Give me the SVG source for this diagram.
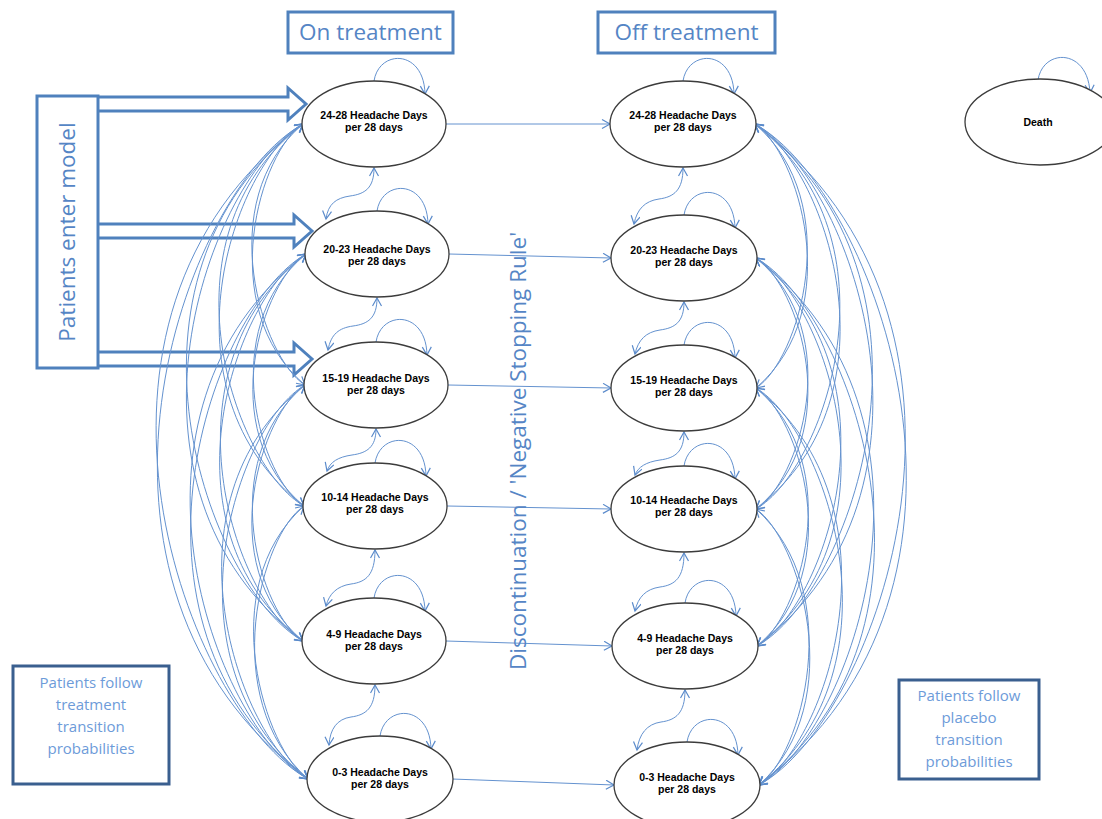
<svg xmlns="http://www.w3.org/2000/svg" width="1102" height="819" viewBox="0 0 1102 819">
<style>
.st{fill:#fff;stroke:#3c3c3c;stroke-width:1.3}
.lbl{font-family:"Liberation Sans",Arial,sans-serif;font-weight:bold;font-size:10.5px;fill:#000;text-anchor:middle}
.c{fill:none;stroke:#6492cf;stroke-width:1}
.hdr{fill:#fff;stroke:#4f81bd;stroke-width:3}
.hdt{font-family:"Open Sans","Liberation Sans",sans-serif;font-size:22.5px;fill:#5585c5;text-anchor:middle}
.nb{fill:#fff;stroke:#3a5f8f;stroke-width:3}
.nbt{font-family:"Open Sans","Liberation Sans",sans-serif;font-size:15px;fill:#6d9bd9;text-anchor:middle}
.blk{fill:#fff;stroke:#4f81bd;stroke-width:3;stroke-linejoin:miter}
</style>
<defs>
<marker id="ah" markerUnits="userSpaceOnUse" markerWidth="12" markerHeight="12" refX="9" refY="5" orient="auto-start-reverse">
<path d="M1,0.5 L9,5 L1,9.5" fill="none" stroke="#5b8bcb" stroke-width="1.2"/>
</marker>
</defs>

<g id="hdr-on"><rect class="hdr" x="288" y="12" width="165" height="41"/><text class="hdt" x="370.5" y="40">On treatment</text></g>
<g id="hdr-off"><rect class="hdr" x="598" y="12" width="177" height="41"/><text class="hdt" x="686.5" y="40">Off treatment</text></g>

<g id="enter">
<path class="blk" d="M98,97 L288,97 L288,88 L306,104 L288,120 L288,111 L98,111"/>
<path class="blk" d="M98,224 L294,224 L294,215 L312,231 L294,247 L294,238 L98,238"/>
<path class="blk" d="M98,352 L294,352 L294,343 L312,359 L294,375 L294,366 L98,366"/>
<rect class="hdr" x="37" y="96" width="61" height="272"/>
<text class="hdt" transform="translate(75,232) rotate(-90)" font-size="23.5">Patients enter model</text>
</g>

<g id="connectors">
<!-- horizontal -->
<path class="c" marker-end="url(#ah)" d="M446,124 L610,124"/>
<path class="c" marker-end="url(#ah)" d="M449,254 L611,258"/>
<path class="c" marker-end="url(#ah)" d="M448,385 L611,388"/>
<path class="c" marker-end="url(#ah)" d="M447,506 L611,509"/>
<path class="c" marker-end="url(#ah)" d="M446,641 L612,646"/>
<path class="c" marker-end="url(#ah)" d="M452,779 L614,785"/>
<!-- self loops left -->
<path class="c" marker-end="url(#ah)" d="M374,81 C379,49 424,49 425,94"/>
<path class="c" marker-end="url(#ah)" d="M377,211 C382,179 427,179 428,224"/>
<path class="c" marker-end="url(#ah)" d="M376,342 C381,310 426,310 427,355"/>
<path class="c" marker-end="url(#ah)" d="M375,463 C380,431 425,431 426,476"/>
<path class="c" marker-end="url(#ah)" d="M374,598 C379,566 424,566 425,611"/>
<path class="c" marker-end="url(#ah)" d="M380,736 C385,704 430,704 431,749"/>
<!-- self loops right -->
<path class="c" marker-end="url(#ah)" d="M683,81 C688,49 733,49 734,94"/>
<path class="c" marker-end="url(#ah)" d="M684,215 C689,183 734,183 735,228"/>
<path class="c" marker-end="url(#ah)" d="M684,345 C689,313 734,313 735,358"/>
<path class="c" marker-end="url(#ah)" d="M684,466 C689,434 734,434 735,479"/>
<path class="c" marker-end="url(#ah)" d="M685,603 C690,571 735,571 736,616"/>
<path class="c" marker-end="url(#ah)" d="M687,742 C692,710 737,710 738,755"/>
<!-- death loop -->
<path class="c" marker-end="url(#ah)" d="M1038,80 C1043,48 1088,48 1090,93"/>
<!-- adjacent S-curves left -->
<path class="c" marker-start="url(#ah)" marker-end="url(#ah)" d="M374,168 C374,188 365,194 350,196 C336,198 328,204 326,219"/>
<path class="c" marker-start="url(#ah)" marker-end="url(#ah)" d="M377,298 C377,318 368,324 353,326 C339,328 331,334 328,350"/>
<path class="c" marker-start="url(#ah)" marker-end="url(#ah)" d="M376,429 C376,447 367,453 352,455 C338,457 330,462 327,471"/>
<path class="c" marker-start="url(#ah)" marker-end="url(#ah)" d="M375,550 C375,575 366,582 351,584 C337,586 329,594 326,606"/>
<path class="c" marker-start="url(#ah)" marker-end="url(#ah)" d="M375,685 C375,708 366,715 351,717 C337,719 330,729 329,745"/>
<!-- adjacent S-curves right -->
<path class="c" marker-start="url(#ah)" marker-end="url(#ah)" d="M683,168 C683,190 674,197 659,199 C645,201 637,209 634,224"/>
<path class="c" marker-start="url(#ah)" marker-end="url(#ah)" d="M684,302 C684,322 675,328 660,330 C646,332 638,340 635,354"/>
<path class="c" marker-start="url(#ah)" marker-end="url(#ah)" d="M684,432 C684,452 675,458 660,460 C646,462 638,467 635,475"/>
<path class="c" marker-start="url(#ah)" marker-end="url(#ah)" d="M684,553 C684,578 675,585 660,587 C646,589 638,597 635,611"/>
<path class="c" marker-start="url(#ah)" marker-end="url(#ah)" d="M685,690 C685,713 676,720 661,722 C647,724 639,734 637,750"/>
<!-- long curves left -->
<g id="left-long">
<path class="c" marker-end="url(#ah)" d="M303,124 C261,150 213,307 305,385"/>
<path class="c" marker-end="url(#ah)" d="M305,385 C263,359 211,202 303,124"/>
<path class="c" marker-end="url(#ah)" d="M303,124 C235,162 154,391 304,506"/>
<path class="c" marker-end="url(#ah)" d="M304,506 C236,468 153,239 303,124"/>
<path class="c" marker-end="url(#ah)" d="M303,124 C209,176 96,486 303,641"/>
<path class="c" marker-end="url(#ah)" d="M303,641 C209,589 96,279 303,124"/>
<path class="c" marker-end="url(#ah)" d="M303,124 C183,190 44,582 308,779"/>
<path class="c" marker-end="url(#ah)" d="M308,779 C188,713 39,321 303,124"/>
<path class="c" marker-end="url(#ah)" d="M306,254 C264,279 212,430 304,506"/>
<path class="c" marker-end="url(#ah)" d="M304,506 C262,481 214,330 306,254"/>
<path class="c" marker-end="url(#ah)" d="M306,254 C238,293 153,525 303,641"/>
<path class="c" marker-end="url(#ah)" d="M303,641 C235,602 156,370 306,254"/>
<path class="c" marker-end="url(#ah)" d="M306,254 C212,307 101,621 308,779"/>
<path class="c" marker-end="url(#ah)" d="M308,779 C214,726 99,412 306,254"/>
<path class="c" marker-end="url(#ah)" d="M305,385 C263,411 211,564 303,641"/>
<path class="c" marker-end="url(#ah)" d="M303,641 C261,615 213,462 305,385"/>
<path class="c" marker-end="url(#ah)" d="M305,385 C237,424 158,661 308,779"/>
<path class="c" marker-end="url(#ah)" d="M308,779 C240,740 155,503 305,385"/>
<path class="c" marker-end="url(#ah)" d="M304,506 C262,533 216,697 308,779"/>
<path class="c" marker-end="url(#ah)" d="M308,779 C266,752 212,588 304,506"/>
</g>
<g id="right-long">
<path class="c" marker-end="url(#ah)" d="M755,124 C797,150 848,309 756,388"/>
<path class="c" marker-end="url(#ah)" d="M756,388 C798,362 847,203 755,124"/>
<path class="c" marker-end="url(#ah)" d="M755,124 C823,163 906,393 756,509"/>
<path class="c" marker-end="url(#ah)" d="M756,509 C824,470 905,240 755,124"/>
<path class="c" marker-end="url(#ah)" d="M755,124 C849,176 964,489 757,646"/>
<path class="c" marker-end="url(#ah)" d="M757,646 C851,594 962,281 755,124"/>
<path class="c" marker-end="url(#ah)" d="M755,124 C875,190 1023,587 759,785"/>
<path class="c" marker-end="url(#ah)" d="M759,785 C879,719 1019,322 755,124"/>
<path class="c" marker-end="url(#ah)" d="M756,258 C798,283 848,434 756,509"/>
<path class="c" marker-end="url(#ah)" d="M756,509 C798,484 848,333 756,258"/>
<path class="c" marker-end="url(#ah)" d="M756,258 C824,297 907,530 757,646"/>
<path class="c" marker-end="url(#ah)" d="M757,646 C825,607 906,374 756,258"/>
<path class="c" marker-end="url(#ah)" d="M756,258 C850,311 966,627 759,785"/>
<path class="c" marker-end="url(#ah)" d="M759,785 C853,732 963,416 756,258"/>
<path class="c" marker-end="url(#ah)" d="M756,388 C798,414 849,569 757,646"/>
<path class="c" marker-end="url(#ah)" d="M757,646 C799,620 848,465 756,388"/>
<path class="c" marker-end="url(#ah)" d="M756,388 C824,428 909,666 759,785"/>
<path class="c" marker-end="url(#ah)" d="M759,785 C827,745 906,507 756,388"/>
<path class="c" marker-end="url(#ah)" d="M756,509 C798,537 851,702 759,785"/>
<path class="c" marker-end="url(#ah)" d="M759,785 C801,757 848,592 756,509"/>
</g>
</g>

<text class="hdt" transform="translate(526,451) rotate(-90)" font-size="22.5">Discontinuation / 'Negative Stopping Rule'</text>

<g id="on-24-28"><ellipse class="st" cx="374" cy="124" rx="72" ry="43"/><text class="lbl" x="374" y="119">24-28 Headache Days</text><text class="lbl" x="374" y="131">per 28 days</text></g>
<g id="on-20-23"><ellipse class="st" cx="377" cy="254" rx="72" ry="43"/><text class="lbl" x="377" y="253">20-23 Headache Days</text><text class="lbl" x="377" y="265">per 28 days</text></g>
<g id="on-15-19"><ellipse class="st" cx="376" cy="385" rx="72" ry="43"/><text class="lbl" x="376" y="382">15-19 Headache Days</text><text class="lbl" x="376" y="394">per 28 days</text></g>
<g id="on-10-14"><ellipse class="st" cx="375" cy="506" rx="72" ry="43"/><text class="lbl" x="375" y="501">10-14 Headache Days</text><text class="lbl" x="375" y="513">per 28 days</text></g>
<g id="on-4-9"><ellipse class="st" cx="374" cy="641" rx="72" ry="43"/><text class="lbl" x="374" y="638">4-9 Headache Days</text><text class="lbl" x="374" y="650">per 28 days</text></g>
<g id="on-0-3"><ellipse class="st" cx="380" cy="779" rx="73" ry="43"/><text class="lbl" x="380" y="776">0-3 Headache Days</text><text class="lbl" x="380" y="788">per 28 days</text></g>

<g id="off-24-28"><ellipse class="st" cx="683" cy="124" rx="73" ry="43"/><text class="lbl" x="683" y="119">24-28 Headache Days</text><text class="lbl" x="683" y="131">per 28 days</text></g>
<g id="off-20-23"><ellipse class="st" cx="684" cy="258" rx="73" ry="43"/><text class="lbl" x="684" y="254">20-23 Headache Days</text><text class="lbl" x="684" y="266">per 28 days</text></g>
<g id="off-15-19"><ellipse class="st" cx="684" cy="388" rx="73" ry="43"/><text class="lbl" x="684" y="384">15-19 Headache Days</text><text class="lbl" x="684" y="396">per 28 days</text></g>
<g id="off-10-14"><ellipse class="st" cx="684" cy="509" rx="73" ry="43"/><text class="lbl" x="684" y="504">10-14 Headache Days</text><text class="lbl" x="684" y="516">per 28 days</text></g>
<g id="off-4-9"><ellipse class="st" cx="685" cy="646" rx="73" ry="43"/><text class="lbl" x="685" y="642">4-9 Headache Days</text><text class="lbl" x="685" y="654">per 28 days</text></g>
<g id="off-0-3"><ellipse class="st" cx="687" cy="785" rx="73" ry="43"/><text class="lbl" x="687" y="781">0-3 Headache Days</text><text class="lbl" x="687" y="793">per 28 days</text></g>

<g id="death"><ellipse class="st" cx="1040" cy="122" rx="75" ry="43"/><text class="lbl" x="1038" y="126">Death</text></g>

<g id="note-treatment"><rect class="nb" x="13" y="666" width="156" height="118"/>
<text class="nbt" x="91" y="688">Patients follow</text><text class="nbt" x="91" y="710">treatment</text><text class="nbt" x="91" y="732">transition</text><text class="nbt" x="91" y="754">probabilities</text></g>
<g id="note-placebo"><rect class="nb" x="899" y="680" width="140" height="99"/>
<text class="nbt" x="969" y="701">Patients follow</text><text class="nbt" x="969" y="723">placebo</text><text class="nbt" x="969" y="745">transition</text><text class="nbt" x="969" y="767">probabilities</text></g>
</svg>
